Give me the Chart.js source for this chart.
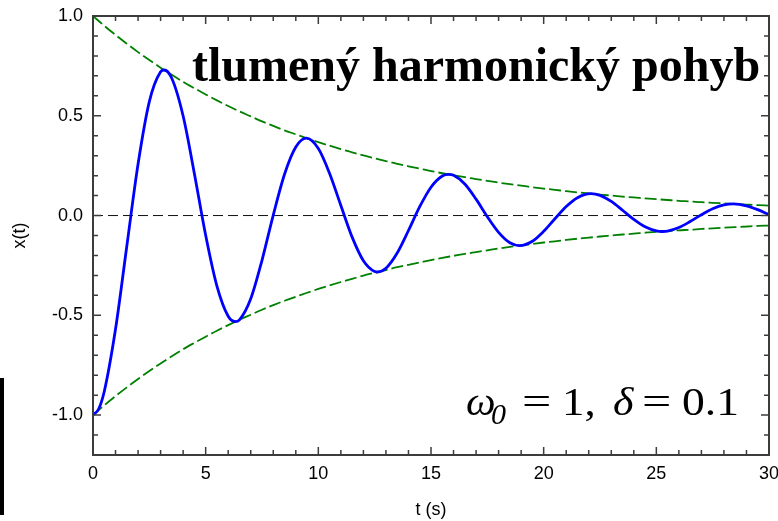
<!DOCTYPE html>
<html>
<head>
<meta charset="utf-8">
<script src="https://cdn.jsdelivr.net/npm/chart.js@4"></script>
<style>
  html, body { margin: 0; padding: 0; background: #fff; }
  #wrap { position: relative; width: 778px; height: 521px; }
  #bar { position: absolute; left: 0; top: 378px; width: 4px; height: 137px; background: #000; }
</style>
</head>
<body>
<div id="wrap">
  <canvas id="chart" width="778" height="521"></canvas>
  <div id="bar"></div>
</div>
<script>
// --- data ---
const curveTimes = [0, 0.25, 0.5, 1, 1.5, 2, 2.5, 3, 3.16, 3.5,
  4, 4.5, 5, 5.5, 6, 6.32, 6.5, 7, 7.5, 8,
  8.5, 9, 9.47, 10, 10.5, 11, 11.5, 12, 12.5, 12.63,
  13, 13.5, 14, 14.5, 15, 15.5, 15.79, 16, 16.5, 17,
  17.5, 18, 18.5, 18.94, 19.5, 20, 20.5, 21, 21.5, 22.1,
  22.5, 23, 23.5, 24, 24.5, 25, 25.26, 25.5, 26, 26.5,
  27, 27.5, 28, 28.42, 29, 29.5, 30];

const xValues = [-1.0000, -0.9694, -0.8815, -0.5690, -0.1536, 0.2581, 0.5709, 0.7201, 0.7293, 0.6869,
  0.4988, 0.2099, -0.0991, -0.3540, -0.5050, -0.5318, -0.5228, -0.4171, -0.2241, 0.0026,
  0.2071, 0.3435, 0.3878, 0.3358, 0.2109, 0.0502, -0.1081, -0.2261, -0.2804, -0.2828,
  -0.2641, -0.1878, -0.0750, 0.0445, 0.1419, 0.1980, 0.2062, 0.2017, 0.1583, 0.0821,
  -0.0058, -0.0840, -0.1360, -0.1504, -0.1286, -0.0791, -0.0159, 0.0450, 0.0897, 0.1097,
  0.1013, 0.0708, 0.0264, -0.0198, -0.0566, -0.0773, -0.0800, -0.0777, -0.0600, -0.0300,
  0.0041, 0.0340, 0.0531, 0.0583, 0.0489, 0.0294, 0.0048];

const envTimes = [0, 0.5, 1, 1.5, 2, 2.5, 3, 3.5, 4, 4.5, 5, 5.5, 6, 6.5, 7, 7.5, 8, 8.5, 9, 9.5,
  10, 10.5, 11, 11.5, 12, 12.5, 13, 13.5, 14, 14.5, 15, 15.5, 16, 16.5, 17, 17.5, 18, 18.5, 19, 19.5,
  20, 20.5, 21, 21.5, 22, 22.5, 23, 23.5, 24, 24.5, 25, 25.5, 26, 26.5, 27, 27.5, 28, 28.5, 29, 29.5, 30];

const upperEnv = [1.000, 0.951, 0.905, 0.861, 0.819, 0.779, 0.741, 0.705, 0.670, 0.638,
  0.607, 0.577, 0.549, 0.522, 0.497, 0.472, 0.449, 0.427, 0.407, 0.387,
  0.368, 0.350, 0.333, 0.317, 0.301, 0.287, 0.273, 0.259, 0.247, 0.235,
  0.223, 0.212, 0.202, 0.192, 0.183, 0.174, 0.165, 0.157, 0.150, 0.142,
  0.135, 0.129, 0.122, 0.116, 0.111, 0.105, 0.100, 0.095, 0.091, 0.086,
  0.082, 0.078, 0.074, 0.071, 0.067, 0.064, 0.061, 0.058, 0.055, 0.052, 0.050];

const lowerEnv = [-1.000, -0.951, -0.905, -0.861, -0.819, -0.779, -0.741, -0.705, -0.670, -0.638,
  -0.607, -0.577, -0.549, -0.522, -0.497, -0.472, -0.449, -0.427, -0.407, -0.387,
  -0.368, -0.350, -0.333, -0.317, -0.301, -0.287, -0.273, -0.259, -0.247, -0.235,
  -0.223, -0.212, -0.202, -0.192, -0.183, -0.174, -0.165, -0.157, -0.150, -0.142,
  -0.135, -0.129, -0.122, -0.116, -0.111, -0.105, -0.100, -0.095, -0.091, -0.086,
  -0.082, -0.078, -0.074, -0.071, -0.067, -0.064, -0.061, -0.058, -0.055, -0.052, -0.050];

const xTicks = [0, 5, 10, 15, 20, 25, 30];
const yTicks = [-1.0, -0.5, 0.0, 0.5, 1.0];
const titleText = 'tlumený harmonický pohyb';

const toPoints = (xs, ys) => xs.map((x, i) => ({ x: x, y: ys[i] }));

// rámeček, vnitřní značky a texty
const framePlugin = {
  id: 'frame',
  afterDatasetsDraw(chart) {
    const { ctx, chartArea: a, scales } = chart;
    const sx = scales.x, sy = scales.y;
    ctx.save();
    ctx.strokeStyle = '#3c3c3c';
    ctx.lineWidth = 2;
    ctx.strokeRect(a.left, a.top, a.right - a.left, a.bottom - a.top);

    ctx.lineWidth = 1.5;
    ctx.beginPath();
    for (let v = 0; v <= 30; v += 1) {
      const px = sx.getPixelForValue(v);
      const len = v % 5 === 0 ? 8 : 5;
      ctx.moveTo(px, a.bottom); ctx.lineTo(px, a.bottom - len);
      ctx.moveTo(px, a.top); ctx.lineTo(px, a.top + len);
    }
    for (let k = -12; k <= 10; k++) {
      const py = sy.getPixelForValue(k / 10);
      const len = k % 5 === 0 ? 8 : 5;
      ctx.moveTo(a.left, py); ctx.lineTo(a.left + len, py);
      ctx.moveTo(a.right, py); ctx.lineTo(a.right - len, py);
    }
    ctx.stroke();

    // nadpis
    ctx.fillStyle = '#000';
    ctx.textBaseline = 'alphabetic';
    ctx.font = 'bold 48px "Liberation Serif", "Times New Roman", serif';
    ctx.fillText(titleText, 192, 81);

    // omega_0 = 1, delta = 0.1
    const serif = '"Liberation Serif", "Times New Roman", serif';
    const put = (txt, x, y, font, sxf) => {
      ctx.save();
      ctx.font = font;
      ctx.translate(x, y);
      ctx.scale(sxf, 1);
      ctx.fillText(txt, 0, 0);
      ctx.restore();
    };
    put('ω', 466, 415, 'italic 40px ' + serif, 1.05);
    put('0', 491, 424, 'italic 30px ' + serif, 1.0);
    put('=', 522, 415, '40px ' + serif, 1.3);
    put('1,', 562, 415, '40px ' + serif, 1.12);
    put('δ', 613, 415, 'italic 40px ' + serif, 1.1);
    put('=', 642, 415, '40px ' + serif, 1.3);
    put('0.1', 682, 415, '40px ' + serif, 1.14);
    ctx.restore();
  }
};

const tickFont = { family: '"Liberation Sans", Arial, sans-serif', size: 18 };

new Chart(document.getElementById('chart').getContext('2d'), {
  type: 'line',
  data: {
    datasets: [
      {
        data: toPoints(curveTimes, xValues),
        borderColor: '#0000ff',
        borderWidth: 2.8,
        cubicInterpolationMode: 'monotone',
        pointRadius: 0
      },
      {
        data: toPoints(envTimes, upperEnv),
        borderColor: '#008000',
        borderWidth: 1.8,
        borderDash: [12, 4],
        cubicInterpolationMode: 'monotone',
        pointRadius: 0
      },
      {
        data: toPoints(envTimes, lowerEnv),
        borderColor: '#008000',
        borderWidth: 1.8,
        borderDash: [12, 4],
        cubicInterpolationMode: 'monotone',
        pointRadius: 0
      },
      {
        data: [{ x: xTicks[0], y: 0 }, { x: xTicks[xTicks.length - 1], y: 0 }],
        borderColor: '#111',
        borderWidth: 1,
        borderDash: [10, 5],
        pointRadius: 0
      }
    ]
  },
  options: {
    responsive: false,
    animation: false,
    layout: { padding: { top: 16, right: 9, left: 0, bottom: 0 } },
    plugins: { legend: { display: false }, tooltip: { enabled: false } },
    scales: {
      x: {
        type: 'linear',
        min: 0,
        max: 30,
        grid: { display: false, drawTicks: false },
        border: { display: false },
        afterBuildTicks: s => { s.ticks = xTicks.map(v => ({ value: v })); },
        afterFit: s => { s.height = 66; s.paddingLeft = 0; s.paddingRight = 0; },
        ticks: { font: tickFont, color: '#000', padding: 8, maxRotation: 0, autoSkip: false },
        title: { display: true, text: 't (s)', font: tickFont, color: '#000', padding: { top: 0, bottom: 0 } }
      },
      y: {
        min: -1.2,
        max: 1.0,
        grid: { display: false, drawTicks: false },
        border: { display: false },
        afterBuildTicks: s => { s.ticks = yTicks.map(v => ({ value: v })); },
        afterFit: s => { s.width = 93; s.paddingTop = 0; s.paddingBottom = 0; },
        ticks: { font: tickFont, color: '#000', padding: 10, callback: v => v.toFixed(1) },
        title: { display: true, text: 'x(t)', font: tickFont, color: '#000', padding: { top: 9, bottom: 0 } }
      }
    }
  },
  plugins: [framePlugin]
});
</script>
</body>
</html>
